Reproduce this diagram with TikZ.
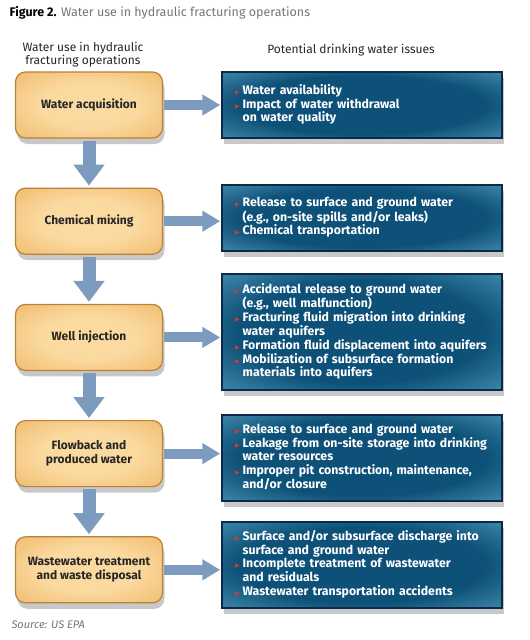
\documentclass[tikz,border=0pt]{standalone}
\usepackage{fontspec}
\setmainfont{Fira Sans}
\newfontfamily\symfont{DejaVu Sans}
\usetikzlibrary{shapes, arrows.meta, positioning, shadows}
\setlength{\parindent}{0pt}

\definecolor{orlight}{HTML}{FBDAA0}
\definecolor{ormid}{HTML}{F0BC70}
\definecolor{ordark}{HTML}{DE9A42}
\definecolor{orline}{HTML}{BA8236}
\definecolor{bldark}{HTML}{0E5178}
\definecolor{blmid}{HTML}{3F89AB}
\definecolor{bllight}{HTML}{A8D6E4}
\definecolor{blline}{HTML}{0B2A48}
\definecolor{arrblue}{HTML}{7D9BBF}
\definecolor{bulred}{HTML}{E0352B}
\definecolor{titlegray}{HTML}{767676}

\pgfdeclareradialshading{orangebox}{\pgfpoint{0bp}{0bp}}{color(0bp)=(orlight); color(16bp)=(orlight); color(36bp)=(ormid); color(48bp)=(ordark); color(72bp)=(ordark)}
\pgfdeclareradialshading{bluebox}{\pgfpoint{0bp}{0bp}}{color(0bp)=(bldark); color(22bp)=(bldark); color(36bp)=(blmid); color(46bp)=(bllight); color(72bp)=(bllight)}

\newcommand{\bul}{{\color{bulred}\symfont\fontsize{6}{6}\selectfont ▶}}
\newcommand{\issues}[1]{\begin{tabular}{@{}l@{\hspace{3pt}}l@{}}#1\end{tabular}}

\begin{document}
\begin{tikzpicture}[x=1pt, y=-1pt, node distance=49pt,
	stage/.style={shading=orangebox, draw=orline, line width=1.2pt, rounded corners=10pt,
		minimum width=147pt, minimum height=66pt, align=center, inner sep=2pt,
		font=\fontsize{12}{14}\selectfont\bfseries, text=black!85,
		drop shadow={shadow xshift=2pt, shadow yshift=-6pt, opacity=0.3, fill=black!70}},
	issue/.style={shading=bluebox, draw=blline, line width=1.5pt,
		text width=254pt, minimum height=66pt, inner xsep=13pt, inner ysep=9pt, align=left,
		font=\fontsize{12.3}{13}\selectfont\bfseries, text=white,
		drop shadow={shadow xshift=2pt, shadow yshift=-6pt, opacity=0.3, fill=black!70}},
	varrow/.style={draw=arrblue, line width=13pt, -{Triangle[width=30pt,length=21pt]}, shorten <=2pt, shorten >=2pt},
	harrow/.style={draw=arrblue, line width=10pt, -{Triangle[width=20pt,length=18pt]}, shorten <=1pt, shorten >=1pt},
	head/.style={font=\fontsize{12}{13}\selectfont, align=center, text=black!85}]
	\useasboundingbox[fill=white] (0,0) rectangle (530,640);

	\node[anchor=west, font=\fontsize{12.5}{14}\selectfont] (title) at (6,13) {\textbf{Figure 2.} {\color{titlegray}Water use in hydraulic fracturing operations}};
	\node[head] (lhead) at (83,55) {Water use in hydraulic\\fracturing operations};
	\node[head] (rhead) at (351,50) {Potential drinking water issues};

	\node[stage] (acq) at (89,105) {Water acquisition};
	\node[stage, below=of acq] (mix) {Chemical mixing};
	\node[stage, below=of mix] (inj) {Well injection};
	\node[stage, below=of inj] (flow) {Flowback and\\produced water};
	\node[stage, below=of flow] (disp) {Wastewater treatment\\and waste disposal};

	\node[issue] (acqissue) at (362,105) {\issues{\bul & Water availability\\ \bul & Impact of water withdrawal\\ & on water quality}};
	\node[issue] (mixissue) at (362,218) {\issues{\bul & Release to surface and ground water\\ & (e.g., on-site spills and/or leaks)\\ \bul & Chemical transportation}};
	\node[issue] (injissue) at (362,332) {\issues{\bul & Accidental release to ground water\\ & (e.g., well malfunction)\\ \bul & Fracturing fluid migration into drinking\\ & water aquifers\\ \bul & Formation fluid displacement into aquifers\\ \bul & Mobilization of subsurface formation\\ & materials into aquifers}};
	\node[issue] (flowissue) at (362,458) {\issues{\bul & Release to surface and ground water\\ \bul & Leakage from on-site storage into drinking\\ & water resources\\ \bul & Improper pit construction, maintenance,\\ & and/or closure}};
	\node[issue] (dispissue) at (362,565) {\issues{\bul & Surface and/or subsurface discharge into\\ & surface and ground water\\ \bul & Incomplete treatment of wastewater\\ & and residuals\\ \bul & Wastewater transportation accidents}};

	\draw[varrow] (acq) -- (mix);
	\draw[varrow] (mix) -- (inj);
	\draw[varrow] (inj) -- (flow);
	\draw[varrow] (flow) -- (disp);

	\draw[harrow] (acq.east) -- (acq.east -| acqissue.west);
	\draw[harrow] (mix.east) -- (mix.east -| mixissue.west);
	\draw[harrow] (inj.east) -- (inj.east -| injissue.west);
	\draw[harrow] (flow.east) -- (flow.east -| flowissue.west);
	\draw[harrow] (disp.east) -- (disp.east -| dispissue.west);

	\node[anchor=west, font=\fontsize{11}{13}\selectfont\itshape, text=titlegray] (source) at (8,625) {Source: US EPA};
\end{tikzpicture}
\end{document}
